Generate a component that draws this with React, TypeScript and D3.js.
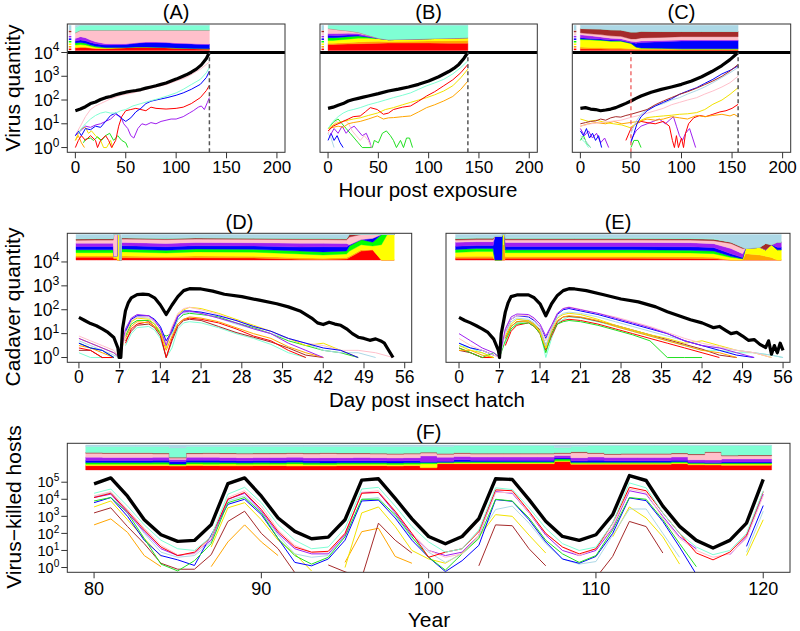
import React from 'react';
import * as d3 from 'd3';

type Pt = [number, number | null];

const KEYS = ['red', 'orange', 'yellow', 'green', 'blue', 'purple', 'pink', 'brown', 'aquamarine', 'lightblue', 'gap'];
const FILL: Record<string, string> = {
  red: '#FF0000', orange: '#FFA500', yellow: '#FFFF00', green: '#00FF00', blue: '#0000FF',
  purple: '#A020F0', pink: '#FFC0CB', brown: '#A52A2A', aquamarine: '#7FFFD4', lightblue: '#ADD8E6', gap: 'none',
};
const LINE: Record<string, string> = { ...FILL, yellow: '#F2E200', green: '#22E022', black: '#000000' };
const FONT = '"Liberation Sans", Arial, Helvetica, sans-serif';

// ---------------- Panel A (hour post exposure, log10 values) ----------------
const A_black: Pt[] = [[0,1.55],[5,1.62],[10,1.72],[15,1.85],[20,1.92],[25,2.02],[30,2.1],[35,2.15],[40,2.22],[45,2.28],[50,2.33],[55,2.37],[60,2.4],[65,2.44],[70,2.5],[75,2.55],[80,2.6],[85,2.66],[90,2.72],[95,2.8],[100,2.88],[105,2.97],[110,3.06],[115,3.17],[120,3.3],[125,3.48],[130,3.75],[133,4.0]];
const A_pink: Pt[] = [[1,0.6],[5,0.9],[10,1.3],[15,1.6],[20,1.75],[25,1.85],[35,2.05],[45,2.2],[57,2.3],[70,2.45],[80,2.55],[91,2.66],[100,2.8],[110,2.95],[120,3.2],[124,3.3],[130,3.5],[133,3.6]];
const A_aqua: Pt[] = [[3,0.6],[6,0.8],[10,1.0],[15,1.2],[20,1.35],[25,1.45],[30,1.5],[35,1.45],[40,1.45],[45,1.55],[50,1.6],[57,1.75],[65,1.85],[74,1.96],[82,2.05],[91,2.17],[100,2.3],[107,2.45],[115,2.65],[124,2.87],[130,3.15],[133,3.37]];
const A_blue: Pt[] = [[0,0.5],[3,0.7],[6,0.5],[10,0.8],[15,0.75],[20,0.9],[25,0.85],[30,1.1],[35,1.35],[40,1.45],[45,1.25],[50,1.1],[55,1.25],[60,1.5],[65,1.65],[70,1.85],[75,1.95],[80,2.0],[91,2.1],[100,2.2],[107,2.3],[115,2.45],[124,2.66],[130,2.95],[133,3.22]];
const A_red: Pt[] = [[0,0],[3,0.3],[6,0.5],[10,0.3],[15,0.5],[20,0.3],[22,0],[25,0.3],[30,0.5],[33,0.3],[36,0],[40,0.3],[43,0.9],[46,1.3],[50,1.55],[55,1.6],[60,1.65],[65,1.6],[70,1.55],[75,1.7],[80,1.65],[90,1.62],[100,1.65],[107,1.7],[115,1.85],[124,2.1],[130,2.4],[133,2.62]];
const A_purple: Pt[] = [[0,0.5],[5,0.7],[10,0.9],[15,0.85],[20,0.95],[25,1.0],[30,1.1],[35,1.2],[40,1.4],[45,1.3],[48,1.0],[52,0.8],[55,0.5],[58,0.4],[62,0.8],[66,1.0],[70,0.95],[75,1.05],[80,1.0],[85,1.1],[90,1.15],[95,1.2],[100,1.2],[107,1.3],[113,1.45],[117,1.55],[122,1.7],[125,1.75],[128,1.6],[131,1.9],[133,2.1]];
const A_yellow: Pt[] = [[0,0.3],[3,0.6],[6,0.8],[10,0.85],[13,0.6],[16,0.7],[20,0.5],[25,0.3],[28,0],[31,0],[35,0.3],[37,0]];
const A_green: Pt[] = [[8,0.2],[10,0.35],[15,0.4],[18,0.3],[22,0.45],[26,0.3],[30,0.5],[34,0.6],[38,0.3],[42,0.5],[46,0.3],[50,0.2],[52,0]];
const A_orange: Pt[] = [[0,0.3],[3,0.5],[6,0.2],[9,0]];

const A_SX = [0,5,10,15,20,30,40,50,60,70,80,90,100,110,120,133];
const A_W = {
  red:        [10,12,12,10,8,8,10,12,14,14,13,12,10,9,8,7],
  orange:     [2,2,2,1,1,0,0,0,0,0,0,0,0,0,0,0],
  yellow:     [10,10,8,6,4,2,1,0,0,0,0,0,0,0,0,0],
  green:      [8,8,7,5,4,2,1,0,0,0,0,0,0,0,0,0],
  blue:       [8,10,10,10,10,10,11,12,15,18,19,19,18,18,17,17],
  purple:     [10,13,12,10,8,5,4,3,2,2,2,2,2,2,2,2],
  pink:       [22,25,29,38,45,53,53,53,49,46,46,47,50,51,53,54],
  aquamarine: [20,20,20,20,20,20,20,20,20,20,20,20,20,20,20,20],
  lightblue:  [10,0,0,0,0,0,0,0,0,0,0,0,0,0,0,0],
};

// ---------------- Panel B ----------------
const B_black: Pt[] = [[0,1.65],[5,1.7],[10,1.78],[15,1.85],[20,1.96],[25,2.02],[30,2.07],[35,2.12],[40,2.17],[50,2.27],[60,2.38],[70,2.46],[80,2.55],[90,2.66],[100,2.8],[110,2.98],[120,3.2],[125,3.33],[130,3.5],[135,3.75],[139,4.0]];
const B_aqua: Pt[] = [[0,0.8],[5,1.1],[10,1.3],[15,1.45],[20,1.55],[25,1.6],[32,1.68],[40,1.8],[49,1.9],[57,2.0],[65,2.1],[74,2.2],[82,2.3],[90,2.45],[98,2.6],[106,2.72],[115,2.87],[124,3.1],[132,3.37],[139,3.65]];
const B_red: Pt[] = [[0,0.7],[5,0.9],[10,1.0],[15,1.1],[20,1.2],[25,1.3],[32,1.33],[37,1.5],[42,1.68],[49,1.6],[55,1.4],[60,1.45],[65,1.6],[74,1.7],[82,1.75],[90,1.95],[98,2.17],[106,2.35],[115,2.6],[124,2.85],[132,3.15],[139,3.5]];
const B_yellow: Pt[] = [[0,0.8],[5,0.95],[10,1.05],[15,1.1],[20,1.15],[25,1.2],[32,1.25],[40,1.35],[49,1.45],[57,1.6],[65,1.68],[74,1.8],[82,1.9],[90,2.0],[98,2.1],[106,2.22],[115,2.38],[124,2.6],[132,2.94],[139,3.3]];
const B_orange: Pt[] = [[0,0.8],[5,0.85],[10,0.9],[15,0.85],[20,1.0],[25,1.05],[32,1.1],[40,1.2],[49,1.33],[55,1.2],[60,1.25],[65,1.26],[74,1.3],[82,1.33],[90,1.5],[98,1.68],[106,1.8],[115,1.96],[124,2.15],[132,2.45],[139,2.8]];
const B_pink: Pt[] = [[0,0.6],[4,0.9],[8,1.1],[12,1.0],[16,1.15],[20,1.05],[24,0.7],[28,0.5],[32,0.3],[36,0.5],[40,0.3],[43,0]];
const B_purple: Pt[] = [[2,0.5],[6,0.8],[10,0.6],[14,0.9],[18,0.6],[22,0.8],[26,0.9],[30,0.7],[34,0.5],[38,0.6],[41,0.3],[43,0]];
const B_blue: Pt[] = [[0,0.3],[3,0.6],[6,0.3],[9,0.5],[12,0.2],[15,0]];
const B_green: Pt[] = [[2,0.9],[6,1.1],[10,1.2],[14,1.0],[18,0.8],[22,0.6],[26,0.4],[30,0.2],[34,0],[44,0],[46,0.3],[50,0.2],[54,0.6],[58,0.7],[62,0.5],[65,0.3],[68,0],[72,0.3],[75,0],[78,0.4],[81,0.4],[84,0]];
const B_lightblue: Pt[] = [[0,0.6],[3,0.4],[6,0]];

const B_SX = [0,5,10,20,30,40,50,60,80,100,120,139];
const B_W = {
  red:        [24,24,25,26,27,28,29,30,30,30,29,29],
  orange:     [5,5,5,6,7,8,8,6,7,8,10,11],
  yellow:     [11,11,12,13,15,13,10,7,8,9,10,11],
  green:      [11,11,10,10,8,4,1,0,0,0,0,0],
  blue:       [9,8,7,6,4,2,0,0,0,0,0,0],
  purple:     [7,8,8,7,6,3,1,0,0,0,0,0],
  pink:       [20,18,15,10,5,2,0,0,0,0,0,0],
  aquamarine: [13,15,18,22,28,40,51,57,55,53,51,49],
};

// ---------------- Panel C ----------------
const C_black: Pt[] = [[0,1.65],[5,1.68],[10,1.62],[15,1.6],[20,1.55],[25,1.58],[30,1.62],[35,1.68],[40,1.77],[45,1.86],[50,1.96],[55,2.07],[60,2.17],[70,2.33],[80,2.45],[90,2.55],[100,2.66],[110,2.8],[120,2.98],[130,3.2],[140,3.45],[148,3.7],[156,4.0]];
const C_brown: Pt[] = [[0,1.0],[5,1.05],[10,1.1],[15,1.12],[20,1.2],[25,1.15],[30,1.25],[35,1.3],[40,1.28],[45,1.35],[50,1.4],[58,1.5],[66,1.6],[74,1.8],[82,1.96],[90,2.1],[98,2.24],[106,2.35],[115,2.5],[123,2.65],[131,2.8],[140,3.0],[148,3.22],[156,3.5]];
const C_lightblue: Pt[] = [[0,0.5],[5,0.3],[10,0],[12,null],[50,0.6],[55,1.1],[60,1.4],[66,1.6],[74,1.75],[82,1.85],[90,2.0],[98,2.1],[106,2.25],[115,2.4],[123,2.55],[131,2.73],[140,2.95],[148,3.15],[156,3.37]];
const C_blue: Pt[] = [[0,0.7],[3,0.5],[6,0.8],[9,0.4],[12,0.6],[15,0.3],[18,0.5],[21,0],[22,null],[50,0.2],[53,0.6],[56,1.0],[60,1.3],[66,1.55],[74,1.75],[82,1.9],[90,2.05],[98,2.24],[106,2.38],[115,2.52],[123,2.7],[131,2.87],[140,3.1],[148,3.25],[156,3.44]];
const C_pink: Pt[] = [[0,0.9],[10,1.0],[20,1.05],[30,1.1],[40,1.15],[49,1.26],[58,1.35],[66,1.45],[74,1.55],[82,1.65],[90,1.8],[98,1.9],[106,2.0],[115,2.1],[123,2.25],[131,2.38],[140,2.55],[148,2.73],[156,3.0]];
const C_yellow: Pt[] = [[0,1.2],[8,1.1],[16,1.15],[25,1.05],[33,1.0],[41,0.95],[49,0.84],[55,1.0],[60,1.15],[66,1.26],[74,1.3],[82,1.33],[90,1.36],[98,1.4],[106,1.42],[115,1.47],[123,1.6],[131,1.82],[140,2.0],[148,2.24],[156,2.52]];
const C_orange: Pt[] = [[0,0.9],[8,1.0],[16,1.05],[25,1.0],[33,1.1],[41,1.0],[49,1.05],[58,1.1],[66,1.2],[74,1.15],[82,1.2],[90,1.3],[98,1.25],[106,1.2],[115,1.35],[123,1.3],[131,1.35],[140,1.4],[148,1.33],[152,1.4],[156,1.3]];
const C_red: Pt[] = [[45,0.3],[50,0.8],[55,1.0],[60,1.1],[66,1.05],[74,1.0],[82,1.1],[88,0.9],[91,0.3],[93,0],[95,0.5],[97,0],[100,0.4],[102,0],[104,0.6],[107,1.0],[112,1.25],[118,1.35],[124,1.3],[131,1.4],[138,1.5],[144,1.55],[150,1.65],[156,1.82]];
const C_purple: Pt[] = [[0,0.8],[4,0.5],[8,0.7],[12,0.4],[16,0.6],[20,0.2],[24,0.4],[28,0],[30,null],[50,0.3],[55,0.7],[60,0.9],[66,1.0],[72,1.1],[78,1.2],[84,1.0],[88,1.15],[92,1.3],[95,0.9],[98,0.5],[101,0.3],[104,0.6],[108,0.8],[111,0.4],[114,0]];
const C_green: Pt[] = [[0,0.3],[3,0.5],[6,0.2],[10,0],[12,null],[50,0],[53,0.3],[57,0.3],[60,0]];
const C_aqua: Pt[] = [[0,0.4],[5,0.2],[8,0]];

const C_SX = [0,10,20,30,40,50,55,60,80,100,120,140,156];
const C_W = {
  red:       [7,6,6,5,5,4,3,3,3,2,2,2,2],
  orange:    [7,6,6,5,5,4,3,3,3,3,3,3,3],
  yellow:    [29,30,28,27,27,20,8,4,3,2,2,2,2],
  green:     [3,2,2,1,1,1,0,0,0,0,0,0,0],
  blue:      [5,4,4,4,3,3,15,22,26,31,32,32,32],
  purple:    [11,10,8,7,6,5,6,6,5,4,3,3,3],
  pink:      [8,8,9,9,9,9,11,12,12,13,13,13,13],
  brown:     [17,20,22,24,25,27,27,26,23,20,20,20,20],
  lightblue: [13,14,15,18,19,27,27,24,25,25,25,25,25],
};

// ---------------- Panel D (day post insect hatch) ----------------
const D_black: Pt[] = [[0,1.68],[1,1.55],[2,1.42],[3,1.33],[4,1.2],[5,1.05],[6,0.84],[6.7,0.4],[6.9,0],[7.2,0],[7.5,1.2],[8,1.96],[8.5,2.3],[9,2.5],[10,2.63],[11,2.65],[12,2.63],[13,2.5],[14,2.2],[15,1.8],[15.5,2.0],[16,2.2],[17,2.55],[18,2.8],[19,2.88],[21,2.87],[23,2.78],[25,2.65],[28,2.55],[31,2.4],[34,2.25],[36,2.12],[38,1.95],[40,1.65],[41,1.45],[42,1.38],[43,1.48],[44,1.4],[45,1.35],[46,1.2],[47,1.0],[48,0.85],[49,0.8],[50,0.72],[51,0.78],[52,0.68],[52.5,0.6],[53,0.4],[54,0]];
const D_GRID = [0,2,4,6,7,8,9,10,12,13,14,15,16,17,18,19,21,24,27,30,33,36,39,42,45,48,51,54];
const D_red =    [0.4,0.3,0,0,null,0.6,1.2,1.4,1.5,1.3,1.0,0,0.8,1.4,1.6,1.65,1.6,1.45,1.2,0.9,0.7,0.3,0,null,null,null,null,null];
const D_orange = [0.5,0.4,0.2,0,null,0.8,1.3,1.5,1.45,1.3,1.0,0.3,0.9,1.4,1.6,1.7,1.65,1.5,1.25,1.0,0.8,0.45,0.2,0,null,null,null,null];
const D_yellow = [0.8,0.6,0.4,0.2,0,1.0,1.5,1.65,1.6,1.4,1.1,0.4,1.2,1.8,2.0,2.1,2.05,1.85,1.6,1.35,1.1,0.8,0.5,0.6,0.3,0,null,null];
const D_green =  [0.6,0.4,0.3,0,null,0.9,1.4,1.55,1.55,1.4,1.0,0.9,1.0,1.6,1.8,1.85,1.8,1.7,1.45,1.25,1.0,0.7,0.5,0.3,0.2,0,null,null];
const D_lblue =  [0.7,0.5,0.3,0.1,0,1.0,1.5,1.7,1.65,1.5,1.2,0.6,1.0,1.6,1.85,1.9,1.85,1.65,1.4,1.2,1.0,0.8,0.6,0.3,0.2,0.2,0,null];
const D_blue =   [0.6,0.4,0.3,0,null,1.1,1.6,1.75,1.75,1.6,1.3,0.7,1.1,1.7,1.95,1.95,1.9,1.75,1.55,1.3,1.1,0.8,0.6,0.4,0.3,0,null,null];
const D_purple = [0.8,0.6,0.4,0.2,0,1.2,1.65,1.8,1.75,1.55,1.2,0.5,1.2,1.75,1.9,1.95,1.85,1.65,1.45,1.2,1.0,0.6,0.3,0,null,null,null,null];
const D_pink =   [0.9,0.7,0.5,0.3,0,1.0,1.55,1.7,1.7,1.5,1.2,0.6,1.3,1.85,2.05,2.1,2.0,1.8,1.55,1.3,1.1,0.8,0.6,0.5,0.3,0.3,0.2,0];
const D_brown =  [0.3,0.3,0,0,null,0.7,1.1,1.35,1.4,1.25,0.9,0,0.7,1.3,1.55,1.6,1.55,1.3,1.05,0.85,0.65,0.4,0.1,0,null,null,null,null];
const D_aqua =   [0.2,0,0,0,null,0.5,1.0,1.25,1.3,1.15,0.8,0,0.4,1.2,1.45,1.5,1.45,1.25,1.0,0.8,0.55,0.2,0,null,null,null,null,null];

const D_SX = [-0.5,3,5.9,6.0,6.55,6.6,7.0,7.05,7.25,7.3,8,15,20,30,38,42,46,46.5,48.5,50.5,52,53,54.2];
const D_W = {
  red:        [11,11,11,5,5,0,0,0,0,9,9,8,9,8,3,2,4,10,35,40,0,0,0],
  orange:     [5,5,5,5,5,0,0,0,0,7,7,6,7,7,6,5,6,5,5,0,0,0,0],
  yellow:     [13,13,13,5,5,100,100,0,0,16,16,14,16,16,15,13,14,20,20,15,60,100,100],
  green:      [11,11,11,0,0,0,0,0,0,11,11,10,11,11,11,12,11,20,20,15,40,0,0],
  blue:       [13,13,13,0,0,0,0,0,0,13,13,14,13,13,16,20,16,5,0,15,0,0,0],
  purple:     [13,13,13,0,0,0,0,0,0,13,13,13,13,13,15,14,14,0,0,0,0,0,0],
  pink:       [11,12,12,85,85,0,0,0,0,13,13,15,13,13,14,14,14,30,20,15,0,0,0],
  brown:      [5,5,5,0,0,0,0,0,0,4,4,4,4,4,4,4,4,10,0,0,0,0,0],
  aquamarine: [2,2,2,0,0,0,0,0,0,2,2,2,2,2,2,2,2,0,0,0,0,0,0],
  lightblue:  [16,15,15,0,0,0,0,0,0,12,12,14,12,13,14,14,15,0,0,0,0,0,0],
  gap:        [0,0,0,0,0,0,0,100,100,0,0,0,0,0,0,0,0,0,0,0,0,0,0],
};

// ---------------- Panel E ----------------
const E_black: Pt[] = [[0,1.68],[1,1.55],[2,1.45],[3,1.33],[4,1.2],[5,1.05],[6,0.77],[6.8,0.3],[7,0],[7.3,1.0],[8,1.9],[8.5,2.3],[9,2.55],[10,2.62],[12,2.62],[13,2.5],[14,2.25],[15,1.75],[15.5,2.0],[16,2.25],[17,2.6],[18,2.8],[19,2.88],[20,2.87],[22,2.8],[25,2.63],[28,2.45],[31,2.33],[34,2.12],[36,1.92],[38,1.75],[40,1.58],[42,1.45],[44,1.25],[45,1.3],[46,1.15],[47,1.0],[48,1.05],[49,0.9],[50,0.72],[51,0.75],[52,0.55],[53,0.42],[53.5,0.7],[54,0.14],[54.5,0.5],[55,0.2],[55.5,0.6],[56,0.3]];
const E_GRID = [0,2,4,6,7,8,9,10,12,13,14,15,16,17,18,19,21,24,27,30,33,36,39,42,45,48,51,54,56];
const E_red =    [0.4,0.2,0,0,null,0.5,1.1,1.35,1.45,1.3,1.0,0.3,0.9,1.4,1.55,1.6,1.55,1.4,1.2,1.0,0.8,0.6,0.4,0.2,0,null,null,null,null];
const E_orange = [0.3,0.3,0.1,0,null,0.8,1.3,1.5,1.5,1.35,1.05,0.4,1.1,1.55,1.7,1.75,1.7,1.55,1.3,1.1,0.9,0.7,0.5,0.3,0.2,0,null,null,null];
const E_yellow = [0.5,0.3,0.2,0,null,0.9,1.4,1.6,1.55,1.4,1.1,0.4,1.2,1.65,1.8,1.85,1.8,1.6,1.35,1.15,0.95,0.8,0.6,0.7,0.5,0.3,0.2,0,null];
const E_green =  [0.4,0.2,0,0.2,0,0.7,1.2,1.4,1.45,1.3,1.0,0.2,1.0,1.4,1.5,1.55,1.5,1.35,1.15,0.95,0.7,0,0,0,null,null,null,null,null];
const E_lblue =  [0.6,0.4,0.3,0.1,0,1.0,1.5,1.65,1.6,1.45,1.2,0.5,1.2,1.7,1.85,1.9,1.85,1.7,1.5,1.3,1.1,0.9,0.7,0.5,0.4,0.3,0.2,0.1,0];
const E_blue =   [0.6,0.4,0.3,0.1,null,1.1,1.6,1.75,1.7,1.55,1.3,0.8,1.3,1.8,2.0,2.05,1.95,1.8,1.6,1.4,1.2,1.0,0.7,0.5,0.3,0.1,0,null,null];
const E_purple = [1.0,0.7,0.4,0.2,0,1.2,1.7,1.82,1.8,1.65,1.4,0.9,1.35,1.85,2.05,2.1,2.0,1.85,1.65,1.45,1.25,1.0,0.7,0.5,0.4,0.2,0,null,null];
const E_pink =   [0.8,0.5,0.3,0.1,0,1.1,1.6,1.75,1.75,1.6,1.3,0.7,1.3,1.85,2.05,2.12,2.02,1.85,1.7,1.5,1.3,1.05,0.8,0.6,0.45,0.3,0.2,0,null];
const E_brown =  [0.3,0.2,0,0,null,0.8,1.3,1.5,1.55,1.4,1.15,0.5,1.0,1.5,1.7,1.72,1.68,1.52,1.35,1.15,0.95,0.75,0.55,0.35,0.1,0,null,null,null];
const E_aqua =   [0.5,0.4,0.2,0,null,0.6,1.2,1.45,1.5,1.35,1.1,0,0.8,1.45,1.6,1.7,1.65,1.5,1.3,1.1,0.9,0.7,0.5,0.3,0.3,0.2,0.2,0.1,0];

const E_SX = [-0.6,3,5.9,6.2,7.4,7.5,7.9,8,20,30,40,44,47,49,49.5,52,53,54,55,55.7];
const E_W = {
  red:        [7,7,7,0,0,0,0,7,7,7,6,5,0,0,0,0,0,0,0,0],
  orange:     [7,8,8,0,0,60,60,7,7,7,7,6,0,0,25,20,15,10,0,0],
  yellow:     [16,18,18,0,0,40,40,15,15,15,15,14,10,5,20,30,25,50,40,40],
  green:      [11,12,12,0,0,0,0,11,11,11,10,10,5,0,0,0,0,0,0,0],
  blue:       [13,12,12,93,93,0,0,13,13,13,14,14,10,5,0,0,0,0,10,10],
  purple:     [16,15,15,0,0,0,0,16,16,16,16,15,20,15,0,0,0,0,20,20],
  pink:       [8,8,8,0,0,0,0,10,10,10,10,12,20,20,0,0,0,0,0,0],
  brown:      [5,5,5,0,0,0,0,5,5,5,5,5,5,5,0,0,25,0,0,0],
  aquamarine: [4,3,3,0,0,0,0,3,3,3,3,3,0,0,0,0,0,0,0,0],
  lightblue:  [13,12,12,7,7,0,0,13,13,13,14,16,30,50,55,50,35,40,30,30],
};

// ---------------- Panel F (years, log10 virus-killed hosts) ----------------
const F_YEARS = d3.range(80, 121);
const F_black =  [4.9,5.25,4.18,2.8,1.92,1.53,1.59,2.5,4.92,5.25, 4.18,2.9,2.12,1.69,1.78,2.8,5.12,5.2,4.05,2.85, 1.82,1.39,1.82,2.86,5.2,5.16,3.98,2.71,1.82,1.59, 1.92,3.1,5.39,5.1,3.6,2.41,1.59,1.14,1.59,2.6,5.16];
const F_aqua =   [4.35,4.6,3.6,2.5,1.6,1.1,1.0,1.8,4.3,4.7, 3.8,2.5,1.6,1.1,1.2,2.3,4.6,4.7,3.6,2.4, 1.5,0.9,1.1,2.2,4.67,4.57,3.5,2.3,1.4,1.0, 1.2,2.6,4.96,4.67,3.2,2.0,1.2,0.75,1.0,2.0,4.5];
const F_pink =   [4.2,4.45,3.4,2.3,1.3,0.75,0.8,1.7,4.1,4.5, 3.6,2.2,1.3,0.9,0.9,2.0,4.4,4.5,3.3,2.0, 1.0,0.6,0.8,1.9,4.4,4.4,3.2,2.0,1.2,0.7, 1.1,2.4,4.6,4.4,2.9,1.7,1.0,0.6,0.8,1.7,4.2];
const F_red =    [4.1,4.35,3.3,2.2,1.2,0.7,0.9,1.8,4.0,4.4, 3.4,2.1,1.2,0.9,0.95,2.0,4.35,4.4,3.3,2.0, 0.6,0.9,1.1,2.1,4.55,4.5,3.3,2.0,1.2,0.8, 1.1,2.6,4.7,4.5,3.2,2.0,0.85,0.45,0.9,1.9,4.45];
const F_purple = [4.1,4.3,3.2,2.1,1.1,0.7,0.85,1.6,4.0,4.35, 3.3,2.0,1.1,0.8,0.8,1.9,4.4,4.4,3.2,1.9, 1.0,0.7,0.9,1.9,4.45,4.35,3.2,1.9,1.0,0.7, 1.0,2.3,4.5,4.3,3.0,1.8,1.1,null,0.75,1.8,4.3];
const F_green =  [3.9,4.1,3.2,1.7,0.2,-0.2,0.4,1.4,3.8,4.1, 3.2,1.7,0.7,0.2,0.6,1.8,4.0,4.0,3.1,1.8, 0.6,-0.15,0.8,1.7,4.0,3.9,2.9,1.6,0.8,0.3, 0.7,2.2,4.1,4.0,2.8,1.4,0.05,null,null,null,null];
const F_blue =   [3.8,4.1,3.0,1.6,0.7,0.45,0.12,1.9,3.7,4.0, 3.1,1.7,0.3,0.1,0.5,1.6,3.9,3.95,2.9,1.6, 0.6,-0.24,0.4,1.3,3.98,3.88,2.8,1.5,0.5,0.25, 0.65,2.0,4.08,3.92,2.7,1.2,-0.4,null,null,1.24,3.63];
const F_lblue =  [4.15,4.4,3.3,2.0,0.9,0.6,0.7,1.5,3.9,4.2, 3.2,1.9,0.8,0.6,0.7,1.8,4.0,4.1,3.0,1.7, 0.9,0.3,0.8,1.8,3.4,3.6,2.6,1.4,0.5,0.2, 0.35,1.9,3.43,3.43,2.0,0.6,null,null,null,0.9,3.3];
const F_yellow = [3.55,3.9,2.8,1.7,0.65,null,null,1.2,3.5,3.8, 2.8,1.6,0.8,-0.2,null,0.0,3.2,3.55,2.4,1.0, 0.5,0.25,0.85,1.8,3.1,3.0,1.9,0.85,null,null, null,1.8,3.55,2.9,1.8,0.2,null,null,null,0.7,2.8];
const F_brown =  [3.2,3.5,2.4,1.4,0.25,-0.1,-0.1,0.75,2.7,3.3, 2.0,1.1,-0.3,null,0.15,-0.25,-0.6,2.6,1.6,0.85, null,null,null,0.1,2.5,2.45,1.1,0.1,null,null, -0.6,0.65,2.7,2.4,0.85,null,null,null,null,null,null];
const F_orange = [2.5,2.85,2.06,0.7,0.05,null,null,0.05,1.5,2.5, 1.5,0.7,null,null,null,0.3,2.1,2.3,0.65,0.25, null,null,null,null,null,null,null,null,null,null, null,null,null,null,null,null,null,null,null,null,null];

const F_SX = d3.range(79.5, 120.5, 1);
const F_W = {
  red:        [17,17,17,17,17,16,17,17,16,16,17,17,16,16,16,17,17,17,16,17,8,25,24,24,24,24,24,24,33,22,22,22,22,22,22,24,20,20,18,18,18],
  orange:     [1,1,1,1,1,1,1,1,1,1,1,1,1,1,1,1,1,1,1,1,3,1,1,1,1,1,1,1,1,1,1,1,1,1,1,1,1,1,1,1,1],
  yellow:     [5,5,5,5,5,3,5,5,6,5,5,5,7,5,5,5,5,5,5,5,14,2,3,3,3,3,3,3,2,3,3,3,3,3,3,3,3,3,4,4,4],
  green:      [7,7,7,7,7,4,7,7,6,6,6,6,7,6,6,6,6,6,6,6,5,3,4,4,4,4,4,4,7,4,4,4,4,4,4,4,3,3,4,4,4],
  blue:       [8,8,8,8,8,10,8,8,8,8,8,9,8,8,9,8,8,8,8,8,4,4,8,6,6,6,6,6,4,6,8,6,6,6,6,6,3,3,4,4,4],
  purple:     [13,12,12,12,12,8,12,12,12,12,12,12,12,12,12,12,13,12,12,12,22,16,12,12,12,12,12,12,10,12,12,12,12,12,12,12,10,10,12,12,12],
  pink:       [16,16,16,16,14,6,14,15,15,15,15,15,15,16,17,16,15,15,15,15,12,12,12,12,12,12,12,12,8,20,14,12,13,13,13,13,20,30,12,13,13],
  brown:      [3,3,3,3,3,3,3,3,3,3,3,3,3,3,3,3,3,3,3,3,3,3,3,3,3,3,3,3,3,3,3,3,3,3,3,3,3,3,3,3,3],
  aquamarine: [24,25,25,25,26,38,25,25,25,26,26,26,25,26,25,26,26,27,28,27,24,28,28,30,30,30,30,30,20,22,28,32,31,31,31,29,33,25,38,37,37],
  lightblue:  [6,6,6,6,6,12,6,6,6,6,6,6,6,6,6,6,6,6,6,6,5,6,2,2,2,2,2,2,10,5,2,2,2,2,2,2,2,2,2,2,2],
};

const HOUR_TICKS = [0, 50, 100, 150, 200];
const DAY_TICKS = [0, 7, 14, 21, 28, 35, 42, 49, 56];
const YEAR_TICKS = [80, 90, 100, 110, 120];
const LOG_TICKS_4 = [0, 1, 2, 3, 4];
const LOG_TICKS_5 = [0, 1, 2, 3, 4, 5];
const INIT_SQUARES = ['brown', 'pink', 'purple', 'blue', 'green', 'yellow', 'orange', 'red'];

const zip = (xs: number[], vs: (number | null)[]): Pt[] => xs.map((x, i) => [x, vs[i]] as Pt);

interface StackSpec { xs: number[]; w: Record<string, number[]>; step?: boolean; end?: number }
interface LineSpec { color: string; pts: Pt[]; width?: number }
interface PanelSpec {
  id: string; title: string;
  box: { l: number; r: number; t: number; b: number };
  xDom: [number, number]; yDom: [number, number];
  xTicks: number[]; yTicks?: number[]; tickFont: number; yTickFont?: number; xLabelDy: number;
  band: [number, number]; stacks: StackSpec[]; initCol?: [number, number];
  lines: LineSpec[]; hline?: boolean; vdash?: { x: number; color: string }[];
  titleY: number;
}

function Panel({ s }: { s: PanelSpec }) {
  const { box } = s;
  const x = d3.scaleLinear().domain(s.xDom).range([box.l, box.r]);
  const y = d3.scaleLinear().domain(s.yDom).range([box.b, box.t]);
  const bandTop = y(s.band[1]);
  const bandBot = y(s.band[0]);
  const hb = bandBot - bandTop;
  const line = d3.line<Pt>().defined((d) => d[1] !== null).x((d) => x(d[0])).y((d) => y(d[1] as number));

  const stackEls: React.ReactNode[] = [];
  s.stacks.forEach((st, si) => {
    let rows: any[] = st.xs.map((xx, i) => {
      const r: any = { x: xx };
      KEYS.forEach((k) => { r[k] = st.w[k] ? st.w[k][i] : 0; });
      return r;
    });
    if (st.step && st.end !== undefined) rows = [...rows, { ...rows[rows.length - 1], x: st.end }];
    const series = d3.stack<any>().keys(KEYS).offset(d3.stackOffsetExpand)(rows);
    const area = d3.area<any>()
      .x((d) => x(d.data.x))
      .y0((d) => bandBot - d[0] * hb)
      .y1((d) => bandBot - d[1] * hb)
      .curve(st.step ? d3.curveStepAfter : d3.curveLinear);
    series.forEach((ser) => {
      if (ser.key === 'gap') return;
      stackEls.push(
        <path key={`st${si}-${ser.key}`} d={area(ser as any) || ''} fill={FILL[ser.key]} stroke={FILL[ser.key]} strokeWidth={0.4} />
      );
    });
  });

  const initEls: React.ReactNode[] = [];
  if (s.initCol) {
    const x0 = x(s.initCol[0]);
    const w = x(s.initCol[1]) - x0;
    initEls.push(<rect key="ic-top" x={x0} y={bandTop} width={w} height={hb * 0.2} fill={FILL.lightblue} />);
    const slot = (hb * 0.8) / INIT_SQUARES.length;
    INIT_SQUARES.forEach((c, i) => {
      initEls.push(<rect key={`ic${i}`} x={x0} y={bandTop + hb * 0.2 + i * slot + slot * 0.2} width={w} height={slot * 0.6} fill={FILL[c]} />);
    });
  }

  const tf = s.tickFont;
  const ytf = s.yTickFont ?? tf;
  return (
    <g>
      <defs>
        <clipPath id={`clip-${s.id}`}>
          <rect x={box.l} y={box.t} width={box.r - box.l} height={box.b - box.t} />
        </clipPath>
      </defs>
      <g clipPath={`url(#clip-${s.id})`}>
        {stackEls}
        {initEls}
        {s.lines.map((ln, i) => (
          <path key={`ln${i}`} d={line(ln.pts) || ''} fill="none" stroke={LINE[ln.color]} strokeWidth={ln.width ?? 1} strokeLinejoin="round" />
        ))}
        {s.hline && <line x1={box.l} x2={box.r} y1={y(4)} y2={y(4)} stroke="#000" strokeWidth={3} />}
        {(s.vdash || []).map((v, i) => (
          <line key={`vd${i}`} x1={x(v.x)} x2={x(v.x)} y1={box.b} y2={y(4)} stroke={v.color} strokeWidth={1.5} strokeDasharray="4,3" />
        ))}
      </g>
      <rect x={box.l} y={box.t} width={box.r - box.l} height={box.b - box.t} fill="none" stroke="#333" strokeWidth={1} />
      {s.xTicks.map((t) => (
        <g key={`xt${t}`}>
          <line x1={x(t)} x2={x(t)} y1={box.b} y2={box.b + 6} stroke="#333" />
          <text x={x(t)} y={box.b + s.xLabelDy} textAnchor="middle" fontSize={tf} fontFamily={FONT}>{t}</text>
        </g>
      ))}
      {(s.yTicks || []).map((t) => (
        <g key={`yt${t}`}>
          <line x1={box.l - 6} x2={box.l} y1={y(t)} y2={y(t)} stroke="#333" />
          <text x={box.l - 8} y={y(t) + ytf * 0.36} textAnchor="end" fontSize={ytf} fontFamily={FONT}>
            10<tspan dy={-ytf * 0.42} fontSize={ytf * 0.7}>{t}</tspan>
          </text>
        </g>
      ))}
      <text x={(box.l + box.r) / 2} y={s.titleY} textAnchor="middle" fontSize={20} fontFamily={FONT}>{s.title}</text>
    </g>
  );
}

const hourLines = (list: [string, Pt[]][], black: Pt[]): LineSpec[] => [
  ...list.map(([c, p]) => ({ color: c, pts: p })),
  { color: 'black', pts: black, width: 3.2 },
];

export default function App() {
  const boxTop = { t: 24, b: 152.3 };
  const initCol: [number, number] = [-6.5, -4];
  const panels: PanelSpec[] = [
    {
      id: 'A', title: '(A)', box: { l: 67.3, r: 285, ...boxTop }, xDom: [-8, 208], yDom: [-0.2, 5.2],
      xTicks: HOUR_TICKS, yTicks: LOG_TICKS_4, tickFont: 17, xLabelDy: 20.5, band: [4.08, 5.15],
      stacks: [{ xs: A_SX, w: A_W }], initCol,
      lines: hourLines([['orange', A_orange], ['yellow', A_yellow], ['green', A_green], ['purple', A_purple], ['red', A_red], ['blue', A_blue], ['aquamarine', A_aqua], ['pink', A_pink]], A_black),
      hline: true, vdash: [{ x: 133, color: '#555' }], titleY: 19,
    },
    {
      id: 'B', title: '(B)', box: { l: 320, r: 537.3, ...boxTop }, xDom: [-8, 208], yDom: [-0.2, 5.2],
      xTicks: HOUR_TICKS, tickFont: 17, xLabelDy: 20.5, band: [4.08, 5.15],
      stacks: [{ xs: B_SX, w: B_W }], initCol,
      lines: hourLines([['lightblue', B_lightblue], ['blue', B_blue], ['green', B_green], ['purple', B_purple], ['pink', B_pink], ['orange', B_orange], ['yellow', B_yellow], ['red', B_red], ['aquamarine', B_aqua]], B_black),
      hline: true, vdash: [{ x: 139, color: '#555' }], titleY: 19,
    },
    {
      id: 'C', title: '(C)', box: { l: 572.3, r: 790.7, ...boxTop }, xDom: [-8, 208], yDom: [-0.2, 5.2],
      xTicks: HOUR_TICKS, tickFont: 17, xLabelDy: 20.5, band: [4.08, 5.15],
      stacks: [{ xs: C_SX, w: C_W }], initCol,
      lines: hourLines([['aquamarine', C_aqua], ['green', C_green], ['purple', C_purple], ['red', C_red], ['orange', C_orange], ['yellow', C_yellow], ['pink', C_pink], ['lightblue', C_lightblue], ['blue', C_blue], ['brown', C_brown]], C_black),
      hline: true, vdash: [{ x: 50, color: '#F07070' }, { x: 156, color: '#555' }], titleY: 19,
    },
    {
      id: 'D', title: '(D)', box: { l: 67.3, r: 411.7, t: 233.3, b: 362.3 }, xDom: [-2.0, 57.2], yDom: [-0.2, 5.2],
      xTicks: DAY_TICKS, yTicks: LOG_TICKS_4, tickFont: 17.5, xLabelDy: 20.5, band: [4.08, 5.15],
      stacks: [{ xs: D_SX, w: D_W }],
      lines: [
        ...([['aquamarine', D_aqua], ['brown', D_brown], ['red', D_red], ['orange', D_orange], ['green', D_green], ['lightblue', D_lblue], ['yellow', D_yellow], ['pink', D_pink], ['blue', D_blue], ['purple', D_purple]] as [string, (number | null)[]][])
          .map(([c, v]) => ({ color: c, pts: zip(D_GRID, v) })),
        { color: 'black', pts: D_black, width: 3.2 },
      ],
      titleY: 229,
    },
    {
      id: 'E', title: '(E)', box: { l: 446, r: 790, t: 233.3, b: 362.3 }, xDom: [-2.25, 57.2], yDom: [-0.2, 5.2],
      xTicks: DAY_TICKS, tickFont: 17.5, xLabelDy: 20.5, band: [4.08, 5.15],
      stacks: [{ xs: E_SX, w: E_W }],
      lines: [
        ...([['aquamarine', E_aqua], ['brown', E_brown], ['red', E_red], ['green', E_green], ['orange', E_orange], ['yellow', E_yellow], ['lightblue', E_lblue], ['blue', E_blue], ['pink', E_pink], ['purple', E_purple]] as [string, (number | null)[]][])
          .map(([c, v]) => ({ color: c, pts: zip(E_GRID, v) })),
        { color: 'black', pts: E_black, width: 3.2 },
      ],
      titleY: 229,
    },
    {
      id: 'F', title: '(F)', box: { l: 67.3, r: 790, t: 443.3, b: 572.3 }, xDom: [78.4, 121.6], yDom: [-0.28, 7.28],
      xTicks: YEAR_TICKS, yTicks: LOG_TICKS_5, tickFont: 18, yTickFont: 14.5, xLabelDy: 22.5, band: [5.72, 7.18],
      stacks: [{ xs: F_SX, w: F_W, step: true, end: 120.5 }],
      lines: [
        ...([['orange', F_orange], ['brown', F_brown], ['yellow', F_yellow], ['lightblue', F_lblue], ['blue', F_blue], ['green', F_green], ['purple', F_purple], ['pink', F_pink], ['red', F_red], ['aquamarine', F_aqua]] as [string, (number | null)[]][])
          .map(([c, v]) => ({ color: c, pts: zip(F_YEARS, v) })),
        { color: 'black', pts: zip(F_YEARS, F_black), width: 3.4 },
      ],
      titleY: 439,
    },
  ];

  return (
    <svg width={800} height={631} viewBox="0 0 800 631" style={{ position: 'absolute', left: 0, top: 0, background: '#fff' }}>
      <rect x={0} y={0} width={800} height={631} fill="#fff" />
      {panels.map((p) => <Panel key={p.id} s={p} />)}
      <text transform="translate(20,88) rotate(-90)" textAnchor="middle" fontSize={21} fontFamily={FONT}>Virus quantity</text>
      <text x={428} y={196.5} textAnchor="middle" fontSize={20.5} fontFamily={FONT}>Hour post exposure</text>
      <text transform="translate(20,307) rotate(-90)" textAnchor="middle" fontSize={21} fontFamily={FONT}>Cadaver quantity</text>
      <text x={427} y={406.5} textAnchor="middle" fontSize={20.5} fontFamily={FONT}>Day post insect hatch</text>
      <text transform="translate(21,507) rotate(-90)" textAnchor="middle" fontSize={21} fontFamily={FONT}>Virus−killed hosts</text>
      <text x={429} y={627} textAnchor="middle" fontSize={21} fontFamily={FONT}>Year</text>
    </svg>
  );
}
